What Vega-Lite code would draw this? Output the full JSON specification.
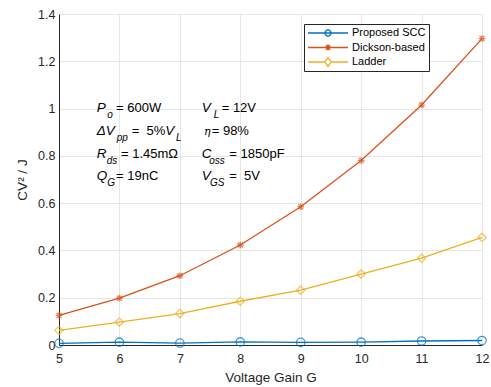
{
  "$schema": "https://vega.github.io/schema/vega-lite/v6.json",
  "width": 423,
  "height": 331,
  "autosize": "none",
  "padding": {"left": 59, "top": 14, "right": 9, "bottom": 42},
  "background": "white",
  "config": {
    "font": "Liberation Sans",
    "view": {"stroke": null},
    "axis": {
      "labelFont": "Liberation Sans",
      "titleFont": "Liberation Sans",
      "labelFontSize": 12.5,
      "titleFontSize": 13.5,
      "labelColor": "#262626",
      "titleColor": "#262626",
      "titleFontWeight": "normal",
      "domainColor": "#262626",
      "domainWidth": 1,
      "gridColor": "#e6e6e6",
      "gridWidth": 1,
      "ticks": false,
      "labelFlush": false
    }
  },
  "datasets": {
    "series": [
      {"G": 5, "v": 0.007, "s": "Proposed SCC"},
      {"G": 6, "v": 0.012, "s": "Proposed SCC"},
      {"G": 7, "v": 0.008, "s": "Proposed SCC"},
      {"G": 8, "v": 0.013, "s": "Proposed SCC"},
      {"G": 9, "v": 0.011, "s": "Proposed SCC"},
      {"G": 10, "v": 0.012, "s": "Proposed SCC"},
      {"G": 11, "v": 0.017, "s": "Proposed SCC"},
      {"G": 12, "v": 0.019, "s": "Proposed SCC"},
      {"G": 5, "v": 0.125, "s": "Dickson-based"},
      {"G": 6, "v": 0.198, "s": "Dickson-based"},
      {"G": 7, "v": 0.293, "s": "Dickson-based"},
      {"G": 8, "v": 0.423, "s": "Dickson-based"},
      {"G": 9, "v": 0.585, "s": "Dickson-based"},
      {"G": 10, "v": 0.78, "s": "Dickson-based"},
      {"G": 11, "v": 1.015, "s": "Dickson-based"},
      {"G": 12, "v": 1.296, "s": "Dickson-based"},
      {"G": 5, "v": 0.062, "s": "Ladder"},
      {"G": 6, "v": 0.097, "s": "Ladder"},
      {"G": 7, "v": 0.133, "s": "Ladder"},
      {"G": 8, "v": 0.185, "s": "Ladder"},
      {"G": 9, "v": 0.232, "s": "Ladder"},
      {"G": 10, "v": 0.3, "s": "Ladder"},
      {"G": 11, "v": 0.367, "s": "Ladder"},
      {"G": 12, "v": 0.455, "s": "Ladder"}
    ],
    "notes": [
      {"x": 5.624, "y": 1.001, "t": "P", "k": "main"},
      {"x": 5.799, "y": 1.001, "t": "o", "k": "sub"},
      {"x": 5.943, "y": 1.001, "t": "= 600W", "k": "plain"},
      {"x": 7.361, "y": 1.001, "t": "V", "k": "main"},
      {"x": 7.56, "y": 1.001, "t": "L", "k": "sub"},
      {"x": 7.692, "y": 1.001, "t": "= 12V", "k": "plain"},
      {"x": 5.624, "y": 0.906, "t": "ΔV", "k": "main"},
      {"x": 5.955, "y": 0.906, "t": "pp", "k": "sub"},
      {"x": 6.203, "y": 0.906, "t": "= \u00a05%", "k": "plain"},
      {"x": 6.76, "y": 0.906, "t": "V", "k": "main"},
      {"x": 6.936, "y": 0.906, "t": "L", "k": "sub"},
      {"x": 7.399, "y": 0.906, "t": "η", "k": "eta"},
      {"x": 7.527, "y": 0.906, "t": "= 98%", "k": "plain"},
      {"x": 5.624, "y": 0.808, "t": "R", "k": "main"},
      {"x": 5.789, "y": 0.808, "t": "ds", "k": "sub"},
      {"x": 6.026, "y": 0.808, "t": "= 1.45mΩ", "k": "plain"},
      {"x": 7.361, "y": 0.808, "t": "C", "k": "main"},
      {"x": 7.487, "y": 0.808, "t": "oss", "k": "sub"},
      {"x": 7.818, "y": 0.808, "t": "= 1850pF", "k": "plain"},
      {"x": 5.624, "y": 0.715, "t": "Q", "k": "main"},
      {"x": 5.799, "y": 0.715, "t": "G", "k": "sub"},
      {"x": 5.943, "y": 0.715, "t": "= 19nC", "k": "plain"},
      {"x": 7.361, "y": 0.715, "t": "V", "k": "main"},
      {"x": 7.499, "y": 0.715, "t": "GS", "k": "sub"},
      {"x": 7.818, "y": 0.715, "t": "= \u00a05V", "k": "plain"}
    ]
  },
  "layer": [
    {
      "data": {"name": "series"},
      "mark": {"type": "line", "strokeWidth": 1.3},
      "encoding": {
        "x": {
          "field": "G", "type": "quantitative",
          "scale": {"domain": [5, 12], "nice": false, "zero": false},
          "axis": {"values": [5, 6, 7, 8, 9, 10, 11, 12], "format": "d", "title": "Voltage Gain G", "labelPadding": 7, "titlePadding": 6}
        },
        "y": {
          "field": "v", "type": "quantitative",
          "scale": {"domain": [0, 1.4], "nice": false},
          "axis": {"values": [0, 0.2, 0.4, 0.6, 0.8, 1, 1.2, 1.4], "format": "~g", "title": "CV² / J", "labelPadding": 4, "titlePadding": 8}
        },
        "color": {
          "field": "s", "type": "nominal",
          "scale": {"domain": ["Proposed SCC", "Dickson-based", "Ladder"], "range": ["#0072BD", "#D95319", "#EDB120"]},
          "legend": {
            "title": null,
            "orient": "none",
            "legendX": 245,
            "legendY": 10,
            "padding": 3,
            "strokeColor": "#262626",
            "fillColor": "white",
            "labelFont": "Liberation Sans",
            "labelFontSize": 11,
            "labelColor": "#000000",
            "labelOffset": 3,
            "symbolSize": 1600,
            "clipHeight": 12,
            "rowPadding": 2.5,
            "encode": {
              "symbols": {
                "update": {
                  "shape": {"signal": "datum.value === 'Proposed SCC' ? 'M-1,0L1,0M0.15,0L0.139,0.057L0.106,0.106L0.057,0.139L0,0.15L-0.057,0.139L-0.106,0.106L-0.139,0.057L-0.15,0L-0.139,-0.057L-0.106,-0.106L-0.057,-0.139L0,-0.15L0.057,-0.139L0.106,-0.106L0.139,-0.057Z' : datum.value === 'Dickson-based' ? 'M-1,0L1,0M0,-0.15L0,0.15M-0.11,-0.11L0.11,0.11M-0.11,0.11L0.11,-0.11' : 'M-1,0L-0.15,0M0.15,0L1,0M0,-0.22L0.15,0L0,0.22L-0.15,0Z'"},
                  "size": {"value": 1600},
                  "fill": {"value": "transparent"},
                  "strokeWidth": {"value": 1.3}
                }
              }
            }
          }
        }
      }
    },
    {
      "data": {"name": "series"},
      "transform": [{"filter": "datum.s === 'Proposed SCC'"}],
      "mark": {"type": "point", "shape": "circle", "filled": false, "strokeWidth": 1.3, "size": 70, "clip": false},
      "encoding": {
        "x": {"field": "G", "type": "quantitative"},
        "y": {"field": "v", "type": "quantitative"},
        "color": {"field": "s", "type": "nominal", "legend": null}
      }
    },
    {
      "data": {"name": "series"},
      "transform": [{"filter": "datum.s === 'Dickson-based'"}],
      "mark": {"type": "point", "shape": "M-0.8,0L0.8,0M0,-0.8L0,0.8M-0.6,-0.6L0.6,0.6M-0.6,0.6L0.6,-0.6", "filled": false, "strokeWidth": 1.3, "size": 70, "clip": false},
      "encoding": {
        "x": {"field": "G", "type": "quantitative"},
        "y": {"field": "v", "type": "quantitative"},
        "color": {"field": "s", "type": "nominal", "legend": null}
      }
    },
    {
      "data": {"name": "series"},
      "transform": [{"filter": "datum.s === 'Ladder'"}],
      "mark": {"type": "point", "shape": "diamond", "filled": false, "strokeWidth": 1.3, "size": 70, "clip": false},
      "encoding": {
        "x": {"field": "G", "type": "quantitative"},
        "y": {"field": "v", "type": "quantitative"},
        "color": {"field": "s", "type": "nominal", "legend": null}
      }
    },
    {
      "data": {"name": "notes"},
      "transform": [{"filter": "datum.k === 'main'"}],
      "mark": {"type": "text", "align": "left", "baseline": "middle", "fontSize": 13.5, "fontStyle": "italic", "font": "Liberation Sans", "color": "#000000"},
      "encoding": {
        "x": {"field": "x", "type": "quantitative"},
        "y": {"field": "y", "type": "quantitative"},
        "text": {"field": "t"}
      }
    },
    {
      "data": {"name": "notes"},
      "transform": [{"filter": "datum.k === 'sub'"}],
      "mark": {"type": "text", "align": "left", "baseline": "middle", "fontSize": 10, "fontStyle": "italic", "font": "Liberation Sans", "color": "#000000", "dy": 7},
      "encoding": {
        "x": {"field": "x", "type": "quantitative"},
        "y": {"field": "y", "type": "quantitative"},
        "text": {"field": "t"}
      }
    },
    {
      "data": {"name": "notes"},
      "transform": [{"filter": "datum.k === 'eta'"}],
      "mark": {"type": "text", "align": "left", "baseline": "middle", "fontSize": 11, "fontStyle": "italic", "font": "DejaVu Serif", "color": "#000000", "dy": 1},
      "encoding": {
        "x": {"field": "x", "type": "quantitative"},
        "y": {"field": "y", "type": "quantitative"},
        "text": {"field": "t"}
      }
    },
    {
      "data": {"name": "notes"},
      "transform": [{"filter": "datum.k === 'plain'"}],
      "mark": {"type": "text", "align": "left", "baseline": "middle", "fontSize": 13, "font": "Liberation Sans", "color": "#000000"},
      "encoding": {
        "x": {"field": "x", "type": "quantitative"},
        "y": {"field": "y", "type": "quantitative"},
        "text": {"field": "t"}
      }
    }
  ]
}
